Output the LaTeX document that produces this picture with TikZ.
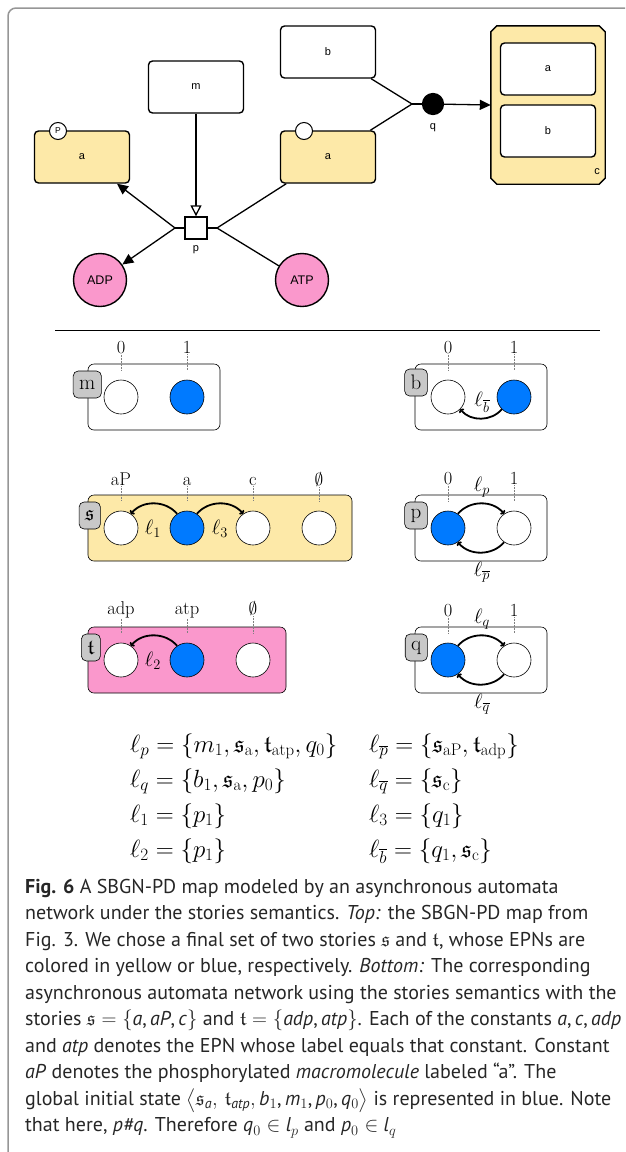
\documentclass[tikz,border=0pt]{standalone}
\usepackage{amsmath,amssymb}
\usepackage{fontspec}
\newfontfamily\sbgnfont{Liberation Sans}
\newfontfamily\capfont{PT Sans}
\usetikzlibrary{arrows.meta,calc}
\definecolor{epnyellow}{RGB}{253,233,168}
\definecolor{epnpink}{RGB}{250,152,204}
\definecolor{stateblue}{RGB}{0,122,255}
\definecolor{labgray}{RGB}{200,200,200}
\definecolor{framegray}{RGB}{150,150,150}
\tikzset{
  sbgn/.style={font=\sbgnfont\fontsize{11}{13}\selectfont},
  macro/.style={sbgn, draw, line width=1.4pt, rounded corners=4pt, minimum width=95pt, minimum height=52pt, inner sep=0pt, fill=white},
  macroy/.style={macro, fill=epnyellow},
  simplechem/.style={circle, draw, line width=1.4pt, minimum size=53pt, inner sep=0pt, fill=epnpink, font=\sbgnfont\fontsize{12.5}{14}\selectfont},
  svar/.style={circle, draw, line width=1pt, fill=white, minimum size=17pt, inner sep=0pt, font=\sbgnfont\fontsize{8.5}{8.5}\selectfont},
  arc/.style={line width=1.3pt},
  prod/.style={arc, -{Triangle[length=11pt,width=10pt]}},
  stim/.style={arc, -{Triangle[open,length=11pt,width=11pt,fill=white]}},
  autobox/.style={draw, line width=0.6pt, rounded corners=6pt, minimum height=66pt, inner sep=0pt},
  st/.style={circle, draw, line width=0.6pt, minimum size=34pt, inner sep=0pt, fill=white},
  stb/.style={st, fill=stateblue},
  albl/.style={draw, fill=labgray, line width=0.6pt, rounded corners=5pt, minimum height=27pt, inner xsep=6pt, inner ysep=0pt, font=\fontsize{21}{21}\selectfont, anchor=north east},
  vlbl/.style={font=\fontsize{18.5}{18.5}\selectfont, anchor=base, inner sep=1pt},
  vdot/.style={densely dotted, gray, line width=0.5pt, shorten >=10pt},
  trans/.style={line width=1.8pt, -{To[length=3pt]}},
  tlbl/.style={font=\fontsize{22}{22}\selectfont, inner sep=0pt},
  eq/.style={font=\fontsize{24}{24}\selectfont, anchor=base west, inner sep=0pt},
}
\begin{document}
\begin{tikzpicture}[x=1pt,y=-1pt]
\useasboundingbox (0,0) rectangle (625,1152);
% frame
\draw[framegray, line width=1.5pt, rounded corners=8pt] (8,1152) -- (8,8) -- (625,8);

% ---------- SBGN-PD map ----------
\node[macro] (bTop) at (328,52) {b};
\node[macro] (mTop) at (196,87) {m};
\node[macroy] (aPTop) at (82,157) {a};
\node[macroy] (aTop) at (328,157) {a};
\node[svar] (aPsv) at (58,131) {P};
\node[svar] (asv) at (304,131) {};
\node[minimum width=114pt, minimum height=158pt, inner sep=0pt] (cComp) at (548,105) {};
\path[draw, fill=epnyellow, line width=1.4pt]
  ($(cComp.north west)+(6,0)$) -- ($(cComp.north east)+(-6,0)$) -- ($(cComp.north east)+(0,6)$)
  -- ($(cComp.south east)+(0,-6)$) -- ($(cComp.south east)+(-6,0)$) -- ($(cComp.south west)+(6,0)$)
  -- ($(cComp.south west)+(0,-6)$) -- ($(cComp.north west)+(0,6)$) -- cycle;
\node[macro] (aIn) at (548,69) {a};
\node[macro] (bIn) at (548,131) {b};
\node[sbgn] (cLab) at (597,172) {c};

\node[draw, line width=1.4pt, fill=white, minimum size=22pt, inner sep=0pt] (pProc) at (196,228) {};
\node[sbgn] (pLab) at (196,250) {p};
\node[circle, fill=black, draw, line width=1.2pt, minimum size=21pt, inner sep=0pt] (qProc) at (433,104) {};
\node[sbgn] (qLab) at (433,128) {q};
\coordinate (pL) at (175,228);
\coordinate (pR) at (217,228);
\coordinate (qL) at (412,104);
\node[simplechem] (ADP) at (100,280) {ADP};
\node[simplechem] (ATP) at (302,280) {ATP};

\draw[arc] (pProc.west) -- (pL);
\draw[arc] (pProc.east) -- (pR);
\draw[prod] (pL) -- (aPTop);
\draw[prod] (pL) -- (ADP);
\draw[arc] (pR) -- (aTop);
\draw[arc] (pR) -- (ATP);
\draw[stim] (mTop) -- (pProc);
\draw[arc] (qProc.west) -- (qL);
\draw[arc] (qL) -- (bTop);
\draw[arc] (qL) -- (aTop);
\draw[prod] (qProc) -- (cComp.west);

% rule
\draw[line width=0.8pt] (55,330) -- (600,330);

% ---------- automata ----------
% m
\node[autobox, minimum width=132pt] (mBox) at (154,397) {};
\node[st] (m0) at (121,397) {};
\node[stb] (m1) at (187,397) {};
\node[albl] (mLab) at ($(mBox.north west)+(14,7)$) {m};
\node[vlbl] (m0v) at (121,353) {0};
\node[vlbl] (m1v) at (187,353) {1};
\draw[vdot] (m0v) -- (m0);
\draw[vdot] (m1v) -- (m1);

% b
\node[autobox, minimum width=132pt] (bBox) at (481,397) {};
\node[st] (b0) at (448,397) {};
\node[stb] (b1) at (514,397) {};
\node[albl] (bLab) at ($(bBox.north west)+(13,5)$) {b};
\node[vlbl] (b0v) at (448,353) {0};
\node[vlbl] (b1v) at (514,353) {1};
\draw[vdot] (b0v) -- (b0);
\draw[vdot] (b1v) -- (b1);
\draw[trans] (b1.225) to[bend left=50] (b0.315);
\node[tlbl] (lbb) at (482,402) {$\ell_{\overline{b}}$};

% s
\node[autobox, fill=epnyellow, minimum width=264pt] (sBox) at (220,528) {};
\node[st] (s0) at (121,528) {};
\node[stb] (s1) at (187,528) {};
\node[st] (s2) at (253,528) {};
\node[st] (s3) at (319,528) {};
\node[albl] (sLab) at ($(sBox.north west)+(13,7)$) {$\mathfrak{s}$};
\node[vlbl] (s0v) at (121,485) {aP};
\node[vlbl] (s1v) at (187,485) {a};
\node[vlbl] (s2v) at (253,485) {c};
\node[vlbl] (s3v) at (319,485) {$\emptyset$};
\draw[vdot] (s0v) -- (s0);
\draw[vdot] (s1v) -- (s1);
\draw[vdot] (s2v) -- (s2);
\draw[vdot] (s3v) -- (s3);
\draw[trans] (s1.125) to[bend right=50] (s0.55);
\draw[trans] (s1.55) to[bend left=50] (s2.125);
\node[tlbl] (l1) at (153,529) {$\ell_1$};
\node[tlbl] (l3) at (220,529) {$\ell_3$};

% t
\node[autobox, fill=epnpink, minimum width=198pt] (tBox) at (187,660) {};
\node[st] (t0) at (121,660) {};
\node[stb] (t1) at (187,660) {};
\node[st] (t2) at (253,660) {};
\node[albl] (tLab) at ($(tBox.north west)+(13,7)$) {$\mathfrak{t}$};
\node[vlbl] (t0v) at (121,614) {adp};
\node[vlbl] (t1v) at (187,614) {atp};
\node[vlbl] (t2v) at (253,614) {$\emptyset$};
\draw[vdot] (t0v) -- (t0);
\draw[vdot] (t1v) -- (t1);
\draw[vdot] (t2v) -- (t2);
\draw[trans] (t1.125) to[bend right=50] (t0.55);
\node[tlbl] (l2) at (153,661) {$\ell_2$};

% p
\node[autobox, minimum width=132pt] (pBox) at (481,528) {};
\node[stb] (p0) at (448,528) {};
\node[st] (p1) at (514,528) {};
\node[albl] (pLabA) at ($(pBox.north west)+(13,7)$) {p};
\node[vlbl] (p0v) at (448,484) {0};
\node[vlbl] (p1v) at (514,484) {1};
\draw[vdot] (p0v) -- (p0);
\draw[vdot] (p1v) -- (p1);
\draw[trans] (p0.55) to[bend left=50] (p1.125);
\draw[trans] (p1.235) to[bend left=50] (p0.305);
\node[tlbl] (lp) at (482,487) {$\ell_p$};
\node[tlbl] (lpb) at (482,572) {$\ell_{\overline{p}}$};

% q
\node[autobox, minimum width=132pt] (qBox) at (481,660) {};
\node[stb] (q0) at (448,660) {};
\node[st] (q1) at (514,660) {};
\node[albl] (qLabA) at ($(qBox.north west)+(13,7)$) {q};
\node[vlbl] (q0v) at (448,616) {0};
\node[vlbl] (q1v) at (514,616) {1};
\draw[vdot] (q0v) -- (q0);
\draw[vdot] (q1v) -- (q1);
\draw[trans] (q0.55) to[bend left=50] (q1.125);
\draw[trans] (q1.235) to[bend left=50] (q0.305);
\node[tlbl] (lq) at (482,619) {$\ell_q$};
\node[tlbl] (lqb) at (482,704) {$\ell_{\overline{q}}$};

% equations
\node[eq] (e1) at (130,752) {$\ell_p = \{m_1, \mathfrak{s}_{\mathrm{a}}, \mathfrak{t}_{\mathrm{atp}}, q_0\}$};
\node[eq] (e2) at (369,752) {$\ell_{\overline{p}} = \{\mathfrak{s}_{\mathrm{aP}}, \mathfrak{t}_{\mathrm{adp}}\}$};
\node[eq] (e3) at (130,787) {$\ell_q = \{b_1, \mathfrak{s}_{\mathrm{a}}, p_0\}$};
\node[eq] (e4) at (369,787) {$\ell_{\overline{q}} = \{\mathfrak{s}_{\mathrm{c}}\}$};
\node[eq] (e5) at (130,822) {$\ell_1 = \{p_1\}$};
\node[eq] (e6) at (369,822) {$\ell_3 = \{q_1\}$};
\node[eq] (e7) at (130,857) {$\ell_2 = \{p_1\}$};
\node[eq] (e8) at (369,857) {$\ell_{\overline{b}} = \{q_1, \mathfrak{s}_{\mathrm{c}}\}$};

% caption
\node[anchor=north west, align=left, inner sep=0pt, font=\capfont\fontsize{20}{26.5}\selectfont, text=black!85] (cap) at (25,879) {%
\textbf{Fig. 6} A SBGN-PD map modeled by an asynchronous automata\\
network under the stories semantics. \textit{Top:} the SBGN-PD map from\\
Fig. 3. We chose a final set of two stories $\mathfrak{s}$ and $\mathfrak{t}$, whose EPNs are\\
colored in yellow or blue, respectively. \textit{Bottom:} The corresponding\\
asynchronous automata network using the stories semantics with the\\
stories $\mathfrak{s}=\{$\textit{a},\,\textit{aP},\,\textit{c}$\}$ and $\mathfrak{t}=\{$\textit{adp},\,\textit{atp}$\}$. Each of the constants \textit{a},\,\textit{c},\,\textit{adp}\\
and \textit{atp} denotes the EPN whose label equals that constant. Constant\\
\textit{aP} denotes the phosphorylated \textit{macromolecule} labeled “a”. The\\
global initial state $\big\langle\mathfrak{s}_{\textit{a}},\,\mathfrak{t}_{\textit{atp}},\,$\textit{b}$_1$,\,\textit{m}$_1$,\,\textit{p}$_0$,\,\textit{q}$_0\big\rangle$ is represented in blue. Note\\
that here, \textit{p\#q}. Therefore \textit{q}$_0\in$ \textit{l}$_p$ and \textit{p}$_0\in$ \textit{l}$_q$};
\end{tikzpicture}
\end{document}
